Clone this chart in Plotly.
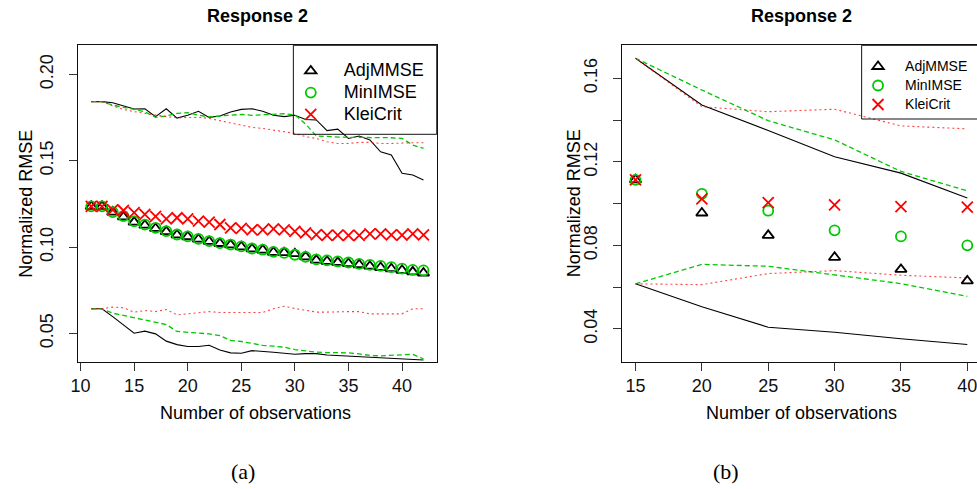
import plotly.graph_objects as go

W, H = 977, 489
FONT = "Liberation Sans, Arial, Helvetica, sans-serif"
SERIF = "Liberation Serif, DejaVu Serif, serif"

# ---------------- Panel (a) data ----------------
n_a = list(range(11, 43))
adj_mean_a = [0.1236, 0.1236, 0.1203, 0.1175, 0.1145, 0.1127, 0.1108, 0.1090, 0.1071, 0.1060,
              0.1046, 0.1033, 0.1021, 0.1013, 0.1002, 0.0990, 0.0983, 0.0970, 0.0968, 0.0962,
              0.0944, 0.0925, 0.0918, 0.0912, 0.0905, 0.0898, 0.0890, 0.0882, 0.0875, 0.0866,
              0.0857, 0.0850]
min_mean_a = [0.1236, 0.1236, 0.1203, 0.1180, 0.1149, 0.1130, 0.1112, 0.1093, 0.1073, 0.1062,
              0.1048, 0.1035, 0.1023, 0.1015, 0.1004, 0.0992, 0.0985, 0.0973, 0.0967, 0.0956,
              0.0944, 0.0929, 0.0923, 0.0917, 0.0911, 0.0903, 0.0897, 0.0892, 0.0884, 0.0876,
              0.0868, 0.0865]
klei_mean_a = [0.1236, 0.1236, 0.1216, 0.1212, 0.1200, 0.1189, 0.1178, 0.1164, 0.1170, 0.1164,
               0.1151, 0.1145, 0.1131, 0.1112, 0.1108, 0.1100, 0.1100, 0.1106, 0.1100, 0.1091,
               0.1083, 0.1073, 0.1068, 0.1070, 0.1068, 0.1068, 0.1077, 0.1077, 0.1071, 0.1070,
               0.1077, 0.1071]
adj_hi_a = [0.1842, 0.1842, 0.1836, 0.1817, 0.1799, 0.1801, 0.1755, 0.1801, 0.1747, 0.1763,
            0.1786, 0.1751, 0.1759, 0.1782, 0.1797, 0.1801, 0.1786, 0.1763, 0.1755, 0.1763,
            0.1739, 0.1736, 0.1674, 0.1683, 0.1629, 0.1643, 0.1620, 0.1552, 0.1533, 0.1427,
            0.1417, 0.1388]
min_hi_a = [0.1842, 0.1842, 0.1822, 0.1809, 0.1793, 0.1784, 0.1751, 0.1759, 0.1774, 0.1778,
            0.1764, 0.1753, 0.1759, 0.1763, 0.1768, 0.1763, 0.1766, 0.1770, 0.1772, 0.1766,
            0.1712, 0.1643, 0.1639, 0.1635, 0.1635, 0.1635, 0.1635, 0.1633, 0.1633, 0.1629,
            0.1591, 0.1571]
klei_hi_a = [0.1842, 0.1842, 0.1817, 0.1797, 0.1784, 0.1774, 0.1763, 0.1755, 0.1749, 0.1751,
             0.1751, 0.1745, 0.1732, 0.1716, 0.1707, 0.1693, 0.1687, 0.1678, 0.1668, 0.1658,
             0.1639, 0.1629, 0.1610, 0.1600, 0.1600, 0.1606, 0.1606, 0.1600, 0.1600, 0.1604,
             0.1604, 0.1604]
adj_lo_a = [0.0643, 0.0643, 0.0598, 0.0552, 0.0502, 0.0514, 0.0498, 0.0456, 0.0436, 0.0425,
            0.0425, 0.0432, 0.0405, 0.0388, 0.0386, 0.0401, 0.0398, 0.0392, 0.0386, 0.0380,
            0.0384, 0.0384, 0.0376, 0.0373, 0.0369, 0.0367, 0.0363, 0.0357, 0.0355, 0.0353,
            0.0349, 0.0347]
min_lo_a = [0.0643, 0.0643, 0.0618, 0.0604, 0.0591, 0.0579, 0.0566, 0.0552, 0.0512, 0.0508,
            0.0506, 0.0498, 0.0488, 0.0460, 0.0454, 0.0444, 0.0432, 0.0427, 0.0421, 0.0407,
            0.0398, 0.0392, 0.0390, 0.0390, 0.0388, 0.0382, 0.0373, 0.0371, 0.0373, 0.0378,
            0.0380, 0.0353]
klei_lo_a = [0.0643, 0.0643, 0.0653, 0.0649, 0.0624, 0.0633, 0.0627, 0.0639, 0.0608, 0.0614,
             0.0624, 0.0627, 0.0622, 0.0622, 0.0620, 0.0622, 0.0622, 0.0643, 0.0658, 0.0645,
             0.0633, 0.0624, 0.0624, 0.0627, 0.0627, 0.0627, 0.0614, 0.0614, 0.0614, 0.0614,
             0.0643, 0.0643]

# ---------------- Panel (b) data ----------------
n_b = [15, 20, 25, 30, 35, 40]
adj_mean_b = [0.1114, 0.0955, 0.0848, 0.0743, 0.0685, 0.0630]
min_mean_b = [0.1114, 0.1047, 0.0966, 0.0872, 0.0843, 0.0800]
klei_mean_b = [0.1114, 0.1023, 0.1005, 0.0994, 0.0986, 0.0983]
adj_hi_b = [0.1696, 0.1472, 0.1350, 0.1224, 0.1146, 0.1027]
min_hi_b = [0.1696, 0.1544, 0.1397, 0.1305, 0.1154, 0.1061]
klei_hi_b = [0.1696, 0.1464, 0.1440, 0.1452, 0.1372, 0.1358]
adj_lo_b = [0.0616, 0.0506, 0.0408, 0.0384, 0.0353, 0.0325]
min_lo_b = [0.0616, 0.0709, 0.0700, 0.0660, 0.0617, 0.0556]
klei_lo_b = [0.0616, 0.0612, 0.0665, 0.0679, 0.0657, 0.0644]

method_names = ["AdjMMSE", "MinIMSE", "KleiCrit"]
x_ticks_a = [10, 15, 20, 25, 30, 35, 40]
x_ticks_b = [15, 20, 25, 30, 35, 40]
y_ticks_a = [0.05, 0.10, 0.15, 0.20]
y_ticks_b = [0.04, 0.06, 0.08, 0.10, 0.12, 0.14, 0.16]
y_text_b = ["0.04", "", "0.08", "", "0.12", "", "0.16"]

BLACK = "#000000"
GREEN = "#00C800"
RED = "#FF0000"

def px_x(p):
    return p / W

def px_y(p):
    return 1 - p / H

fig = go.Figure()

def add_panel(xa, ya, n, means, his, los, legend_name, msize, text_px):
    line_styles = [
        dict(color=BLACK, width=1.1, dash="solid"),
        dict(color=GREEN, width=1.3, dash="5px,3px"),
        dict(color="rgba(255,0,0,0.75)", width=1.1, dash="2px,3px"),
    ]
    for i in range(3):
        for arr in (his[i], los[i]):
            fig.add_trace(go.Scatter(x=n, y=arr, mode="lines", line=line_styles[i],
                                     xaxis=xa, yaxis=ya, showlegend=False, hoverinfo="skip"))
    symbols = ["triangle-up-open", "circle-open", "x-thin-open"]
    colors = [BLACK, GREEN, RED]
    for i in range(3):
        fig.add_trace(go.Scatter(
            x=n, y=means[i], mode="markers",
            name='<span style="font-size:%dpx">%s</span>' % (text_px, method_names[i]),
            marker=dict(symbol=symbols[i], size=msize[i], color=colors[i],
                        line=dict(color=colors[i], width=1.8)),
            xaxis=xa, yaxis=ya, showlegend=True, legend=legend_name))

add_panel("x", "y", n_a,
          [adj_mean_a, min_mean_a, klei_mean_a],
          [adj_hi_a, min_hi_a, klei_hi_a],
          [adj_lo_a, min_lo_a, klei_lo_a], "legend", [10, 10, 11], 18)
add_panel("x2", "y2", n_b,
          [adj_mean_b, min_mean_b, klei_mean_b],
          [adj_hi_b, min_hi_b, klei_hi_b],
          [adj_lo_b, min_lo_b, klei_lo_b], "legend2", [10, 10, 11], 14)

axis_common = dict(showgrid=False, zeroline=False, showline=True, linecolor="#111111",
                   linewidth=1, ticks="outside", ticklen=8, tickwidth=1, tickcolor="#333333",
                   ticklabeloverflow="allow",
                   tickfont=dict(family=FONT, size=18, color="#111111"))

ydom = [px_y(361.7), px_y(45.3)]
fig.update_layout(
    width=W, height=H, margin=dict(l=0, r=0, t=0, b=0),
    paper_bgcolor="white", plot_bgcolor="white",
    xaxis=dict(domain=[px_x(71), px_x(432.3)], range=[9.8, 43.24], tickvals=x_ticks_a,
               mirror=True, anchor="y", **axis_common),
    yaxis=dict(domain=ydom, range=[0.0337, 0.2168], tickvals=y_ticks_a,
               ticktext=["%.2f" % v for v in y_ticks_a], tickangle=-90,
               mirror=True, anchor="x", ticklabelstandoff=9, **axis_common),
    xaxis2=dict(domain=[px_x(619.3), 1.0], range=[14, 40.73], tickvals=x_ticks_b,
                mirror=True, anchor="y2", **axis_common),
    yaxis2=dict(domain=ydom, range=[0.0243, 0.1758], tickvals=y_ticks_b, ticktext=y_text_b,
                tickangle=-90, mirror=False, anchor="x2", ticklabelstandoff=9, **axis_common),
    legend=dict(x=px_x(272), y=px_y(55), xanchor="left", yanchor="top",
                bgcolor="rgba(0,0,0,0)", borderwidth=0, itemwidth=56,
                font=dict(family=FONT, size=14.4, color="#000000")),
    legend2=dict(x=px_x(850), y=px_y(52), xanchor="left", yanchor="top",
                 bgcolor="rgba(0,0,0,0)", borderwidth=0, itemwidth=44,
                 font=dict(family=FONT, size=12.2, color="#000000")),
    showlegend=True,
)

# legend boxes
fig.add_shape(type="rect", xref="paper", yref="paper",
              x0=px_x(287.7), x1=px_x(432.3), y0=px_y(134.3), y1=px_y(45.3),
              line=dict(color="#111111", width=1))
fig.add_shape(type="rect", xref="paper", yref="paper",
              x0=px_x(860.7), x1=1.03, y0=px_y(119), y1=px_y(45.3),
              line=dict(color="#111111", width=1))

def ann(text, x, y, size=18, bold=False, angle=0, family=FONT):
    fig.add_annotation(text=("<b>%s</b>" % text) if bold else text,
                       x=px_x(x), y=px_y(y), xref="paper", yref="paper",
                       showarrow=False, textangle=angle, xanchor="center", yanchor="middle",
                       font=dict(family=family, size=size, color="#000000"))

ann("Response 2", 251.7, 16, bold=True)
ann("Response 2", 800, 16, bold=True)
ann("Normalized RMSE", 17.5, 203.5, angle=-90)
ann("Normalized RMSE", 570.5, 203.5, angle=-90)
ann("Number of observations", 250, 413)
ann("Number of observations", 800, 413)
ann("(a)", 236.7, 471.5, size=22, family=SERIF)
ann("(b)", 724, 471.5, size=22, family=SERIF)

post = ("document.documentElement.style.margin='0';document.body.style.margin='0';"
        "document.body.style.padding='0';document.body.style.overflow='hidden';"
        "document.documentElement.style.overflow='hidden';")
fig.write_html("out.html", post_script=post, config={"displayModeBar": False})
